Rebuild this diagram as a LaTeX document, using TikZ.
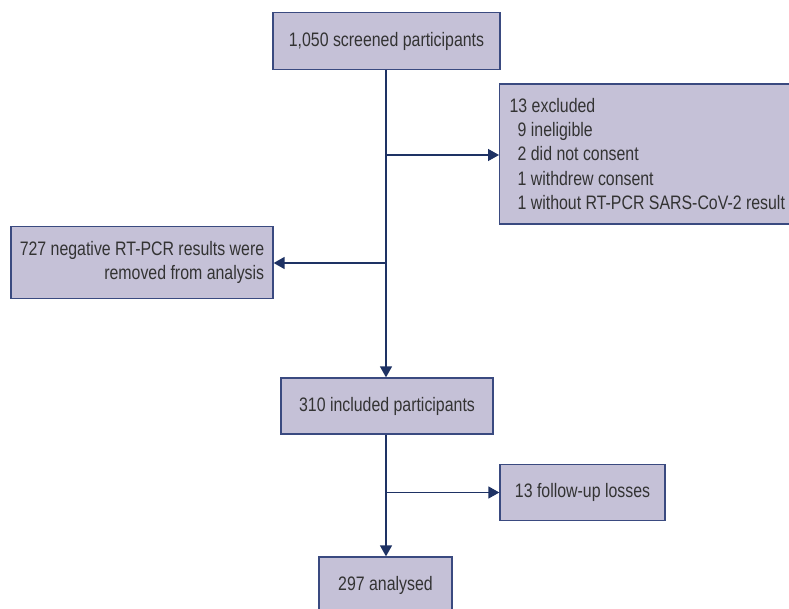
\documentclass[tikz,border=0pt]{standalone}
\usepackage{fontspec}
\setmainfont{Liberation Sans}[FakeStretch=0.815]
\usetikzlibrary{arrows.meta,calc}
\definecolor{boxfill}{HTML}{C5C1D7}
\definecolor{boxline}{HTML}{3A4A80}
\definecolor{arrcol}{HTML}{1E3264}
\definecolor{txt}{HTML}{333333}
\tikzset{
  fbox/.style={draw=boxline, line width=1.3pt, fill=boxfill, text=txt, inner sep=0pt,
    font=\fontsize{19.5}{24.4}\selectfont},
  arr/.style={draw=arrcol, line width=1.4pt, -{Triangle[length=11pt,width=12pt]}}
}
\begin{document}
\begin{tikzpicture}[x=1pt,y=-1pt]
\useasboundingbox (0,0) rectangle (789,609);
\node[fbox, minimum width=227pt, minimum height=57pt] (b1) at (386.5,41) {1,050 screened participants};
\node[fbox, minimum width=310pt, minimum height=140pt, text width=290pt, align=flush left, inner xsep=9pt, anchor=west] (b2) at (499,154) {13 excluded\\
\hspace*{8pt}9 ineligible\\
\hspace*{8pt}2 did not consent\\
\hspace*{8pt}1 withdrew consent\\
\hspace*{8pt}1 without RT-PCR SARS-CoV-2 result};
\node[fbox, minimum width=262pt, minimum height=72pt, align=right] (b3) at (142,262.5) {727 negative RT-PCR results were\\removed from analysis};
\node[fbox, minimum width=212pt, minimum height=56pt] (b4) at (387,406) {310 included participants};
\node[fbox, minimum width=165pt, minimum height=56pt] (b5) at (582.5,492.5) {13 follow-up losses};
\node[fbox, minimum width=133pt, minimum height=56pt] (b6) at (385.5,585) {297 analysed};
\coordinate (t1) at (386,155);
\coordinate (t2) at (386,263);
\coordinate (t3) at (386,492.5);
\draw[arr] (b1.south -| t1) -- (b4.north -| t1);
\draw[arr] (t1) -- (b2.west |- t1);
\draw[arr] (t2) -- (b3.east |- t2);
\draw[arr] (b4.south -| t3) -- (b6.north -| t3);
\draw[arr] (t3) -- (b5.west |- t3);
\end{tikzpicture}
\end{document}
